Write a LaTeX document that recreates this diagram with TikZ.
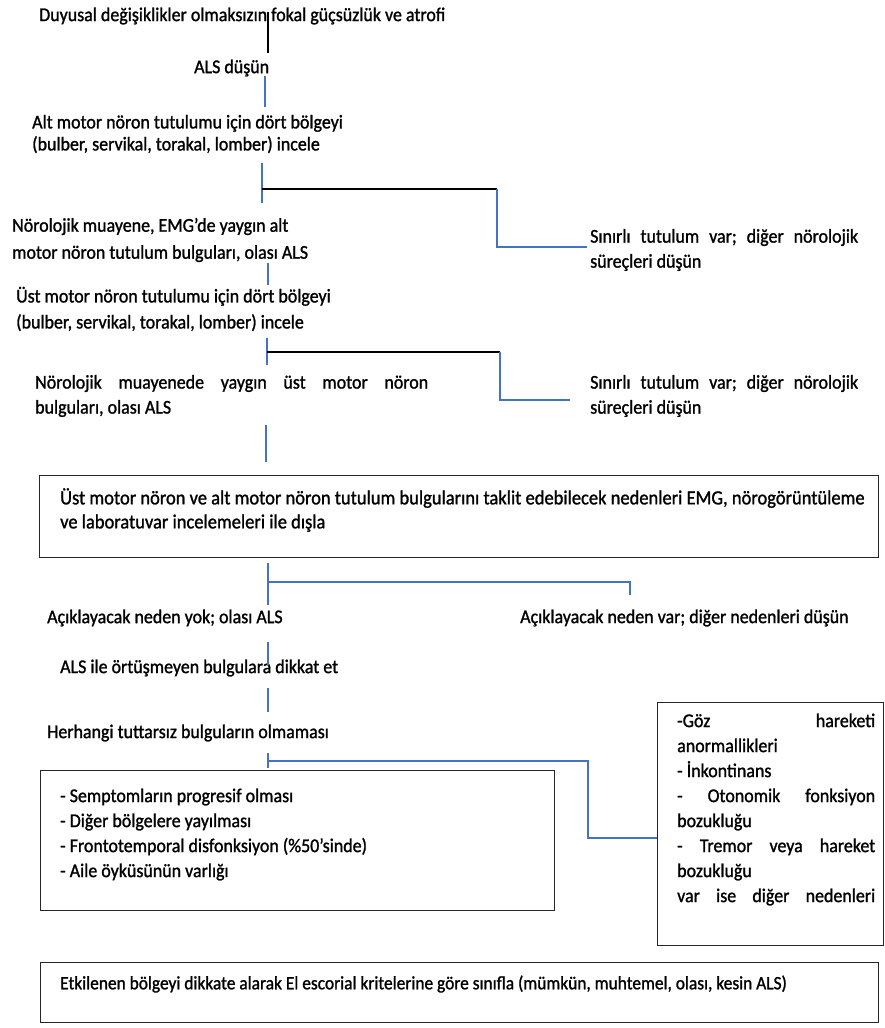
\documentclass[tikz,border=0pt]{standalone}
\usepackage{fontspec}
\setmainfont[FakeStretch=0.92,FakeBold=1.2]{Carlito}
\definecolor{lineblue}{RGB}{68,114,196}
\newcommand\fs[1]{\fontsize{19.5}{#1}\selectfont}
\newcommand\fsb[1]{\fontsize{18.9}{#1}\selectfont}
\newcommand\fsc[1]{\fontsize{20.1}{#1}\selectfont}
\begin{document}
\begin{tikzpicture}[x=1pt,y=-1pt,
  txt/.style={anchor=west,inner sep=0pt,font=\fs{24}},
  blk/.style={txt,align=flush left,text width=#1},
  bl/.style={lineblue,line width=1.2pt},
  bk/.style={black,line width=1.3pt},
  frame/.style={draw=black!85,line width=1.4pt,inner sep=0pt,anchor=north west}]
\useasboundingbox (0,0) rectangle (885,1028);
\fill[white] (0,0) rectangle (885,1028);

% --- text steps ---
\node[txt] (t1) at (39,16) {Duyusal değişiklikler olmaksızın fokal güçsüzlük ve atrofi};
\node[txt] (t2) at (194,68) {ALS düşün};
\node[blk=360pt,font=\fs{22}] (t3) at (32,134) {Alt motor nöron tutulumu için dört bölgeyi\\(bulber, servikal, torakal, lomber) incele};
\node[blk=340pt,font=\fs{27}] (t4) at (12,240) {Nörolojik muayene, EMG’de yaygın alt\\motor nöron tutulum bulguları, olası ALS};
\node[blk=350pt,font=\fs{26}] (t5) at (16,309) {Üst motor nöron tutulumu için dört bölgeyi\\(bulber, servikal, torakal, lomber) incele};
\node[blk=393pt,font=\fs{25}] (t6) at (35,396) {Nörolojik\hfill muayenede\hfill yaygın\hfill üst\hfill motor\hfill nöron\\bulguları, olası ALS};
\node[blk=268pt,font=\fs{25}] (r1) at (590,250) {Sınırlı\hfill tutulum\hfill var;\hfill diğer\hfill nörolojik\\süreçleri düşün};
\node[blk=268pt,font=\fs{25}] (r2) at (590,396) {Sınırlı\hfill tutulum\hfill var;\hfill diğer\hfill nörolojik\\süreçleri düşün};

% --- boxed steps ---
\node[frame,minimum width=839pt,minimum height=82pt] (box1) at (39,475) {};
\node[blk=810pt,font=\fsc{24}] (box1t) at (60,510) {Üst motor nöron ve alt motor nöron tutulum bulgularını taklit edebilecek nedenleri EMG, nörogörüntüleme\\ve laboratuvar incelemeleri ile dışla};

\node[txt] (a1) at (47,618) {Açıklayacak neden yok; olası ALS};
\node[txt] (a2) at (520,618) {Açıklayacak neden var; diğer nedenleri düşün};
\node[txt] (b1) at (60,668) {ALS ile örtüşmeyen bulgulara dikkat et};
\node[txt] (b2) at (47,733) {Herhangi tuttarsız bulguların olmaması};

\node[frame,minimum width=514pt,minimum height=140pt] (box2) at (40,770) {};
\node[blk=480pt,font=\fs{25}] (box2t) at (60,834.5) {- Semptomların progresif olması\\- Diğer bölgelere yayılması\\- Frontotemporal disfonksiyon (\%50’sinde)\\- Aile öyküsünün varlığı};

\node[frame,minimum width=226pt,minimum height=243pt] (box3) at (657,702) {};
\node[blk=198pt,font=\fs{25}] (box3t) at (677,809.5) {-Göz\hfill hareketi\\anormallikleri\\- İnkontinans\\-\hfill Otonomik\hfill fonksiyon\\bozukluğu\\-\hfill Tremor\hfill veya\hfill hareket\\bozukluğu\\var\hfill ise\hfill diğer\hfill nedenleri};

\node[frame,minimum width=838pt,minimum height=60pt] (box4) at (40,962) {};
\node[txt,font=\fsb{24}] (box4t) at (60,984) {Etkilenen bölgeyi dikkate alarak El escorial kritelerine göre sınıfla (mümkün, muhtemel, olası, kesin ALS)};

% --- connector end points ---
\coordinate (p0a) at (268,12);  \coordinate (p0b) at (268,53);
\coordinate (p1a) at (265,76);  \coordinate (p1b) at (265,107);
\coordinate (p2a) at (262,163); \coordinate (p2b) at (262,203);
\coordinate (p2c) at (262,189); \coordinate (p2d) at (497,189);
\coordinate (p2e) at (497,247); \coordinate (p2f) at (587,247);
\coordinate (p3a) at (268,263); \coordinate (p3b) at (268,285);
\coordinate (p4a) at (267,338); \coordinate (p4b) at (267,365);
\coordinate (p4c) at (267,352); \coordinate (p4d) at (500,352);
\coordinate (p4e) at (500,400); \coordinate (p4f) at (570,400);
\coordinate (p5a) at (266,425); \coordinate (p5b) at (266,462);
\coordinate (p6a) at (268,563); \coordinate (p6b) at (268,605);
\coordinate (p6c) at (268,582); \coordinate (p6d) at (630,582); \coordinate (p6e) at (630,595);
\coordinate (p7a) at (268,642); \coordinate (p7b) at (268,665);
\coordinate (p8a) at (268,688); \coordinate (p8b) at (268,712);
\coordinate (p9a) at (268,753); \coordinate (p9b) at (268,768);
\coordinate (p9c) at (268,761); \coordinate (p9d) at (588,761); \coordinate (p9e) at (588,838);

% --- connectors ---
\draw[bk] (p0a) -- (p0b);
\draw[bl] (p1a) -- (p1b);
\draw[bl] (p2a) -- (p2b);
\draw[bk] (p2c) -- (p2d);
\draw[bl] (p2d) -- (p2e) -- (p2f);
\draw[bl] (p3a) -- (p3b);
\draw[bl] (p4a) -- (p4b);
\draw[bk] (p4c) -- (p4d);
\draw[bl] (p4d) -- (p4e) -- (p4f);
\draw[bl] (p5a) -- (p5b);
\draw[bl] (p6a) -- (p6b);
\draw[bl] (p6c) -- (p6d) -- (p6e);
\draw[bl] (p7a) -- (p7b);
\draw[bl] (p8a) -- (p8b);
\draw[bl] (p9a) -- (p9b);
\draw[bl] (p9c) -- (p9d) -- (p9e) -- (p9e -| box3.west);
\end{tikzpicture}
\end{document}
